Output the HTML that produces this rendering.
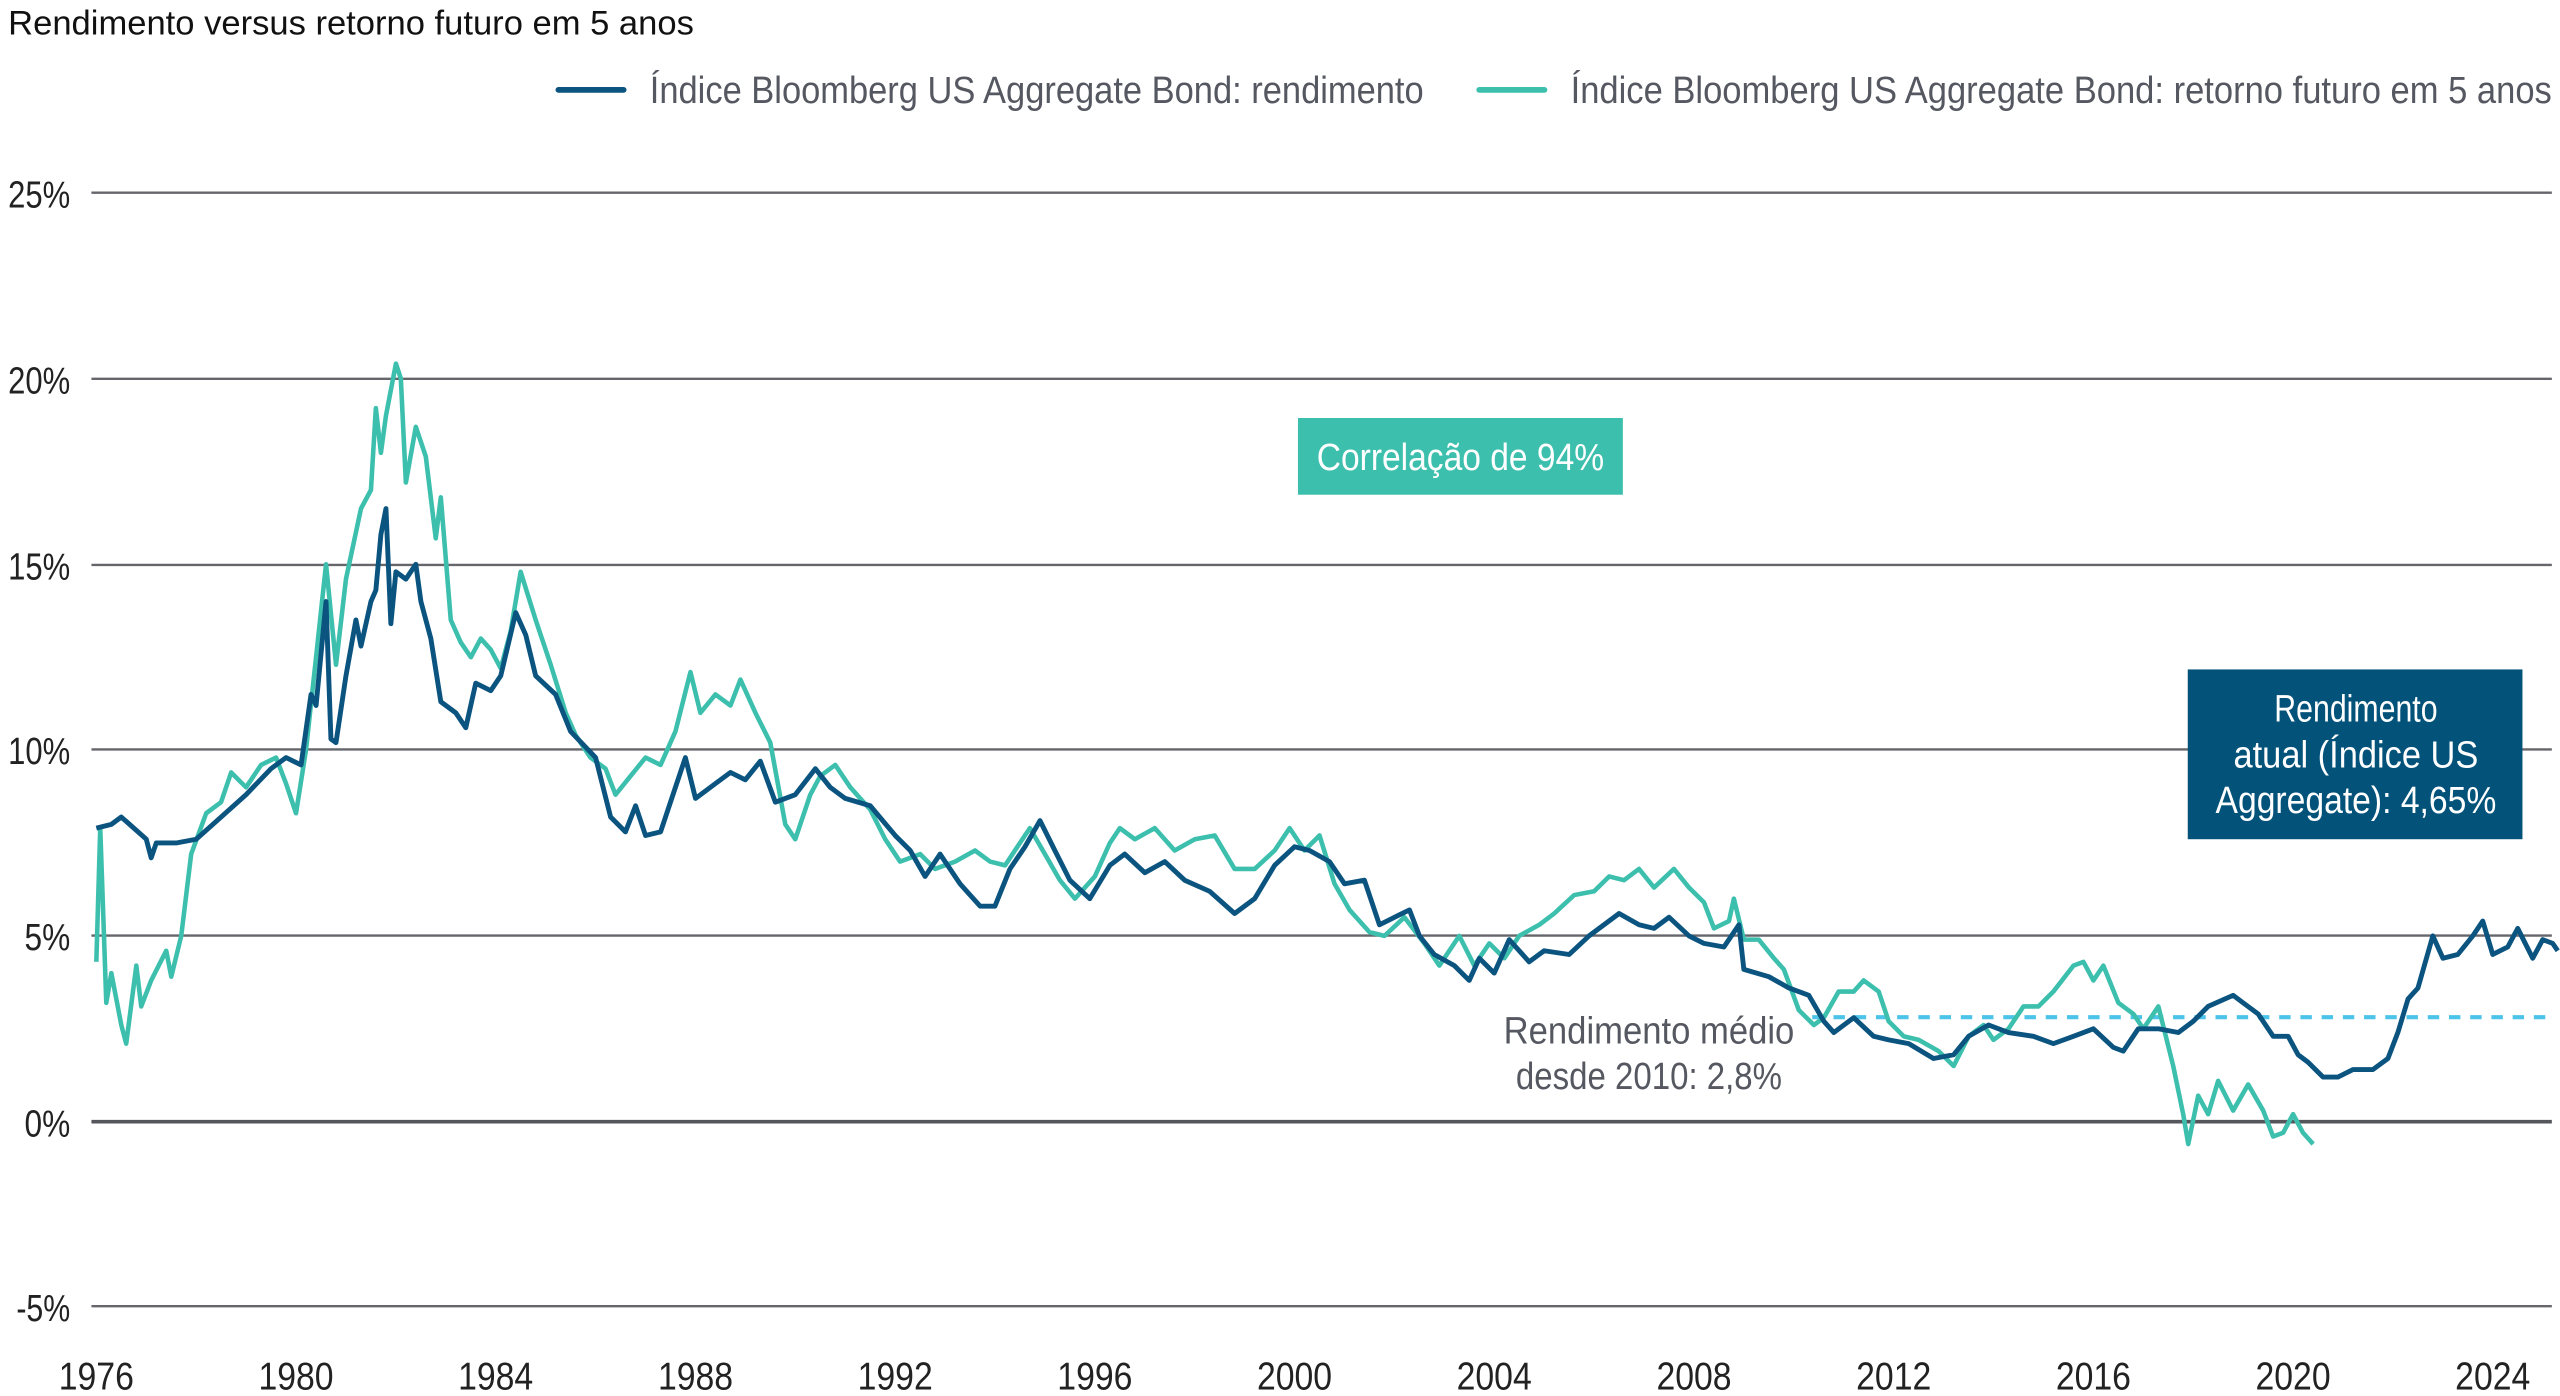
<!DOCTYPE html>
<html><head><meta charset="utf-8"><style>
html,body{margin:0;padding:0;background:#fff;}
svg{display:block;}
text{font-family:"Liberation Sans Narrow","Liberation Sans",sans-serif;}
</style></head><body>
<svg id="c" width="2560" height="1396" viewBox="0 0 1568 855" xmlns="http://www.w3.org/2000/svg">
<text x="5" y="21" font-size="21" fill="#111" textLength="420" lengthAdjust="spacingAndGlyphs">Rendimento versus retorno futuro em 5 anos</text>
<line x1="342" y1="55" x2="382" y2="55" stroke="#0b5480" stroke-width="3.5" stroke-linecap="round"/>
<text x="398" y="63" font-size="23" fill="#555860" textLength="474" lengthAdjust="spacingAndGlyphs">Índice Bloomberg US Aggregate Bond: rendimento</text>
<line x1="906" y1="55" x2="946" y2="55" stroke="#3dbfae" stroke-width="3.5" stroke-linecap="round"/>
<text x="962" y="63" font-size="23" fill="#555860" textLength="601" lengthAdjust="spacingAndGlyphs">Índice Bloomberg US Aggregate Bond: retorno futuro em 5 anos</text>
<g stroke="#65656c" stroke-width="1.5">
<line x1="56" x2="1563" y1="118" y2="118"/>
<line x1="56" x2="1563" y1="232" y2="232"/>
<line x1="56" x2="1563" y1="346" y2="346"/>
<line x1="56" x2="1563" y1="459" y2="459"/>
<line x1="56" x2="1563" y1="573" y2="573"/>
<line x1="56" x2="1563" y1="800" y2="800"/>
</g>
<line x1="56" x2="1563" y1="687" y2="687" stroke="#55555c" stroke-width="2.2"/>
<g font-size="23" fill="#222" text-anchor="end" lengthAdjust="spacingAndGlyphs">
<text x="43" y="127" textLength="38" lengthAdjust="spacingAndGlyphs">25%</text><text x="43" y="241" textLength="38" lengthAdjust="spacingAndGlyphs">20%</text><text x="43" y="355" textLength="38" lengthAdjust="spacingAndGlyphs">15%</text>
<text x="43" y="468" textLength="38" lengthAdjust="spacingAndGlyphs">10%</text><text x="43" y="582" textLength="28" lengthAdjust="spacingAndGlyphs">5%</text><text x="43" y="696" textLength="28" lengthAdjust="spacingAndGlyphs">0%</text><text x="43" y="809" textLength="33" lengthAdjust="spacingAndGlyphs">-5%</text>
</g>
<g font-size="24" fill="#222" text-anchor="middle" id="xl"></g>
<line x1="1110" x2="1563" y1="623" y2="623" stroke="#4cc3e8" stroke-width="2.5" stroke-dasharray="7,6"/>
<path id="teal" fill="none" stroke="#3dbfae" stroke-width="2.8" stroke-linejoin="round"/>
<path id="dark" fill="none" stroke="#0b5480" stroke-width="3" stroke-linejoin="round"/>
<rect x="795" y="256" width="199" height="47" fill="#3dbfad"/>
<text x="894.5" y="288" font-size="23" fill="#fff" text-anchor="middle" textLength="176" lengthAdjust="spacingAndGlyphs">Correlação de 94%</text>
<rect x="1340" y="410" width="205" height="104" fill="#03527a"/>
<g font-size="23" fill="#fff" text-anchor="middle">
<text x="1443" y="442" textLength="100" lengthAdjust="spacingAndGlyphs">Rendimento</text>
<text x="1443" y="470" textLength="150" lengthAdjust="spacingAndGlyphs">atual (Índice US</text>
<text x="1443" y="498" textLength="172" lengthAdjust="spacingAndGlyphs">Aggregate): 4,65%</text>
</g>
<g font-size="23" fill="#555860" text-anchor="middle">
<text x="1010" y="639" textLength="178" lengthAdjust="spacingAndGlyphs">Rendimento médio</text>
<text x="1010" y="667" textLength="163" lengthAdjust="spacingAndGlyphs">desde 2010: 2,8%</text>
</g>
</svg>
<script>
var X=function(t){return 59+30.58*(t-1976)},Y=function(v){return 687-22.76*v};
var xl=document.getElementById('xl'),s='';
for(var y=1976;y<=2024;y+=4){s+='<text x="'+X(y).toFixed(1)+'" y="851" textLength="46" lengthAdjust="spacingAndGlyphs">'+y+'</text>';}
xl.innerHTML=s;
var dark=[1976.0,7.9,1976.3,8.0,1976.5,8.2,1977.0,7.6,1977.1,7.1,1977.2,7.5,1977.6,7.5,1978.0,7.6,1978.5,8.2,1979.0,8.8,1979.5,9.5,1979.8,9.8,1980.1,9.6,1980.3,11.5,1980.4,11.2,1980.6,14.0,1980.7,10.3,1980.8,10.2,1981.0,12.0,1981.2,13.5,1981.3,12.8,1981.5,14.0,1981.6,14.3,1981.7,15.8,1981.8,16.5,1981.9,13.4,1982.0,14.8,1982.2,14.6,1982.4,15.0,1982.5,14.0,1982.7,13.0,1982.9,11.3,1983.2,11.0,1983.4,10.6,1983.6,11.8,1983.9,11.6,1984.1,12.0,1984.4,13.7,1984.6,13.1,1984.8,12.0,1985.2,11.5,1985.5,10.5,1986.0,9.8,1986.3,8.2,1986.6,7.8,1986.8,8.5,1987.0,7.7,1987.3,7.8,1987.6,9.0,1987.8,9.8,1988.0,8.7,1988.4,9.1,1988.7,9.4,1989.0,9.2,1989.3,9.7,1989.6,8.6,1990.0,8.8,1990.4,9.5,1990.7,9.0,1991.0,8.7,1991.5,8.5,1992.0,7.7,1992.3,7.3,1992.6,6.6,1992.9,7.2,1993.3,6.4,1993.7,5.8,1994.0,5.8,1994.3,6.8,1994.6,7.4,1994.9,8.1,1995.2,7.3,1995.5,6.5,1995.9,6.0,1996.3,6.9,1996.6,7.2,1997.0,6.7,1997.4,7.0,1997.8,6.5,1998.3,6.2,1998.8,5.6,1999.2,6.0,1999.6,6.9,2000.0,7.4,2000.3,7.3,2000.7,7.0,2001.0,6.4,2001.4,6.5,2001.7,5.3,2002.0,5.5,2002.3,5.7,2002.5,5.0,2002.8,4.5,2003.2,4.2,2003.5,3.8,2003.7,4.4,2004.0,4.0,2004.3,4.9,2004.7,4.3,2005.0,4.6,2005.5,4.5,2005.9,5.0,2006.5,5.6,2006.9,5.3,2007.2,5.2,2007.5,5.5,2007.9,5.0,2008.2,4.8,2008.6,4.7,2008.9,5.3,2009.0,4.1,2009.5,3.9,2009.9,3.6,2010.3,3.4,2010.6,2.7,2010.8,2.4,2011.2,2.8,2011.6,2.3,2011.9,2.2,2012.3,2.1,2012.8,1.7,2013.2,1.8,2013.5,2.3,2013.9,2.6,2014.3,2.4,2014.8,2.3,2015.2,2.1,2015.6,2.3,2016.0,2.5,2016.4,2.0,2016.6,1.9,2016.9,2.5,2017.3,2.5,2017.7,2.4,2018.0,2.7,2018.3,3.1,2018.8,3.4,2019.0,3.2,2019.3,2.9,2019.6,2.3,2019.9,2.3,2020.1,1.8,2020.3,1.6,2020.6,1.2,2020.9,1.2,2021.2,1.4,2021.6,1.4,2021.9,1.7,2022.1,2.4,2022.3,3.3,2022.5,3.6,2022.8,5.0,2023.0,4.4,2023.3,4.5,2023.6,5.0,2023.8,5.4,2024.0,4.5,2024.3,4.7,2024.5,5.2,2024.8,4.4,2025.0,4.9,2025.2,4.8,2025.3,4.6];
var teal=[1976.0,4.3,1976.08,7.9,1976.2,3.2,1976.3,4.0,1976.5,2.6,1976.6,2.1,1976.8,4.2,1976.9,3.1,1977.1,3.8,1977.4,4.6,1977.5,3.9,1977.7,5.0,1977.9,7.2,1978.2,8.3,1978.5,8.6,1978.7,9.4,1979.0,9.0,1979.3,9.6,1979.6,9.8,1979.8,9.1,1980.0,8.3,1980.2,10.0,1980.4,12.5,1980.6,15.0,1980.8,12.3,1981.0,14.6,1981.3,16.5,1981.5,17.0,1981.6,19.2,1981.7,18.0,1981.8,19.0,1982.0,20.4,1982.1,20.0,1982.2,17.2,1982.4,18.7,1982.6,17.9,1982.8,15.7,1982.9,16.8,1983.1,13.5,1983.3,12.9,1983.5,12.5,1983.7,13.0,1983.9,12.7,1984.1,12.2,1984.3,13.2,1984.5,14.8,1984.8,13.5,1985.1,12.3,1985.4,11.0,1985.6,10.4,1985.9,9.8,1986.2,9.5,1986.4,8.8,1986.7,9.3,1987.0,9.8,1987.3,9.6,1987.6,10.5,1987.9,12.1,1988.1,11.0,1988.4,11.5,1988.7,11.2,1988.9,11.9,1989.2,11.0,1989.5,10.2,1989.8,8.0,1990.0,7.6,1990.3,8.8,1990.5,9.3,1990.8,9.6,1991.1,9.0,1991.5,8.4,1991.8,7.6,1992.1,7.0,1992.5,7.2,1992.8,6.8,1993.2,7.0,1993.6,7.3,1993.9,7.0,1994.2,6.9,1994.5,7.5,1994.7,7.9,1995.0,7.2,1995.3,6.5,1995.6,6.0,1996.0,6.6,1996.3,7.5,1996.5,7.9,1996.8,7.6,1997.2,7.9,1997.6,7.3,1998.0,7.6,1998.4,7.7,1998.8,6.8,1999.2,6.8,1999.6,7.3,1999.9,7.9,2000.2,7.3,2000.5,7.7,2000.8,6.4,2001.1,5.7,2001.5,5.1,2001.8,5.0,2002.2,5.5,2002.6,4.8,2002.9,4.2,2003.3,5.0,2003.6,4.2,2003.9,4.8,2004.2,4.4,2004.5,5.0,2004.9,5.3,2005.2,5.6,2005.6,6.1,2006.0,6.2,2006.3,6.6,2006.6,6.5,2006.9,6.8,2007.2,6.3,2007.6,6.8,2007.9,6.3,2008.2,5.9,2008.4,5.2,2008.7,5.4,2008.8,6.0,2009.0,4.9,2009.3,4.9,2009.6,4.4,2009.8,4.1,2010.1,3.0,2010.4,2.6,2010.6,2.8,2010.9,3.5,2011.2,3.5,2011.4,3.8,2011.7,3.5,2011.9,2.7,2012.2,2.3,2012.5,2.2,2012.9,1.9,2013.2,1.5,2013.5,2.3,2013.8,2.6,2014.0,2.2,2014.3,2.5,2014.6,3.1,2014.9,3.1,2015.2,3.5,2015.6,4.2,2015.8,4.3,2016.0,3.8,2016.2,4.2,2016.5,3.2,2016.8,2.9,2017.0,2.5,2017.3,3.1,2017.6,1.5,2017.8,0.2,2017.9,-0.6,2018.1,0.7,2018.3,0.2,2018.5,1.1,2018.8,0.3,2019.1,1.0,2019.4,0.3,2019.6,-0.4,2019.8,-0.3,2020.0,0.2,2020.2,-0.3,2020.4,-0.6];
function P(a){var d='';for(var i=0;i<a.length;i+=2){d+=(i?'L':'M')+X(a[i]).toFixed(1)+','+Y(a[i+1]).toFixed(1);}return d;}
document.getElementById('dark').setAttribute('d',P(dark));
document.getElementById('teal').setAttribute('d',P(teal));
</script>
</body></html>
